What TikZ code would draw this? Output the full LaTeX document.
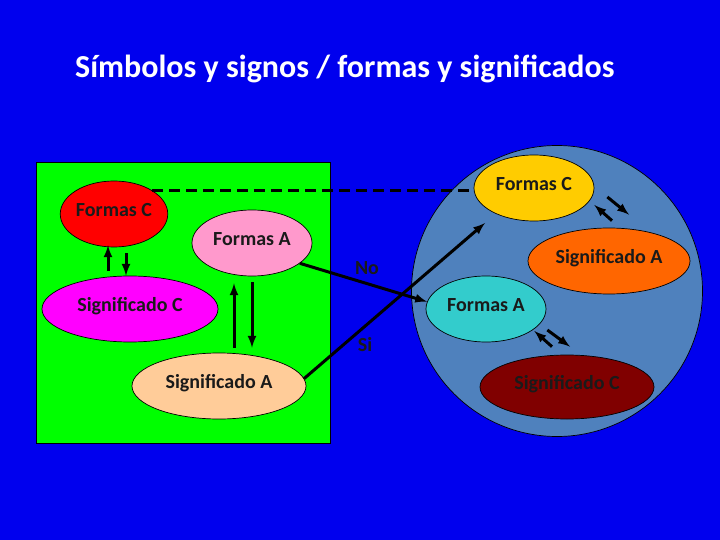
\documentclass[tikz,border=0pt]{standalone}
\usepackage{fontspec}
\setmainfont{Carlito}
\usetikzlibrary{shapes.geometric}
\definecolor{color1}{HTML}{0000EE}
\definecolor{color2}{HTML}{00FF00}
\definecolor{color3}{HTML}{4F81BD}
\definecolor{color4}{HTML}{FF0000}
\definecolor{color5}{HTML}{FF99CC}
\definecolor{color6}{HTML}{FF00FF}
\definecolor{color7}{HTML}{FFCC99}
\definecolor{color8}{HTML}{FFCC00}
\definecolor{color9}{HTML}{FF6600}
\definecolor{color10}{HTML}{33CCCC}
\definecolor{color11}{HTML}{800000}
\definecolor{color12}{HTML}{1A1A1A}
\tikzset{
 oval/.style={ellipse,draw=black,line width=0.7pt,inner sep=0pt,minimum height=66,text=color12,text height=13pt,text depth=8pt,font=\fontsize{20}{22}\selectfont\bfseries},
 pair/.style={line width=3pt,->,>=latex},
 link/.style={line width=3pt,->,>=latex},
 tag/.style={text=color12,font=\fontsize{20}{22}\selectfont\bfseries}
}
\begin{document}
\begin{tikzpicture}[x=1pt,y=-1pt]
\fill[color1] (0,0) rectangle (720,540);
\node[anchor=base west,text=white,font=\fontsize{32}{36}\selectfont\bfseries,inner sep=0pt] (title) at (75,78) {Símbolos y signos / formas y significados};
\fill[color2,draw=black,line width=0.7pt] (36,162) rectangle (330,443);
\fill[color3,draw=black,line width=0.7pt] (557,291) circle (145.5);

\node[oval,fill=color4,minimum width=106] (fcl) at (114,214) {Formas C};
\node[oval,fill=color5,minimum width=120] (fal) at (252,243) {Formas A};
\node[oval,fill=color6,minimum width=176] (scl) at (130,309) {Significado C};
\node[oval,fill=color7,minimum width=174] (sal) at (219,386) {Significado A};

\node[oval,fill=color8,minimum width=120] (fcr) at (534,188) {Formas C};
\node[oval,fill=color9,minimum width=162] (sar) at (609,261) {Significado A};
\node[oval,fill=color10,minimum width=120] (far) at (486,309) {Formas A};
\node[oval,fill=color11,minimum width=174,minimum height=64] (scr) at (567,387) {Significado C};

\draw[pair] ([shift={(-22,-5)}]scl.north) -- ([shift={(-6,-2)}]fcl.south);
\draw[pair] ([shift={(12,6)}]fcl.south) -- ([shift={(-4,0)}]scl.north);
\draw[pair] ([shift={(15,-5)}]sal.north) -- ([shift={(-18,7)}]fal.south);
\draw[pair] ([shift={(0,6)}]fal.south) -- ([shift={(33,-5)}]sal.north);

\draw[pair] ([shift={(3,-7)}]sar.north) -- ([shift={(0,17)}]fcr.east);
\draw[pair] ([shift={(13,9)}]fcr.east) -- ([shift={(20,-13)}]sar.north);
\draw[pair] ([shift={(-15,-8)}]scr.north) -- ([shift={(-12,22)}]far.east);
\draw[pair] ([shift={(1,21)}]far.east) -- ([shift={(3,-8)}]scr.north);

\draw[line width=3pt,dash pattern=on 11pt off 6pt] (fcl.north east) -- (fcl.north east -| fcr.west);
\draw[link] (fal.-23) -- (far.173);
\draw[link] (sal.5) -- ([shift={(-49,35)}]fcr.center);
\node[tag] (no) at (367,268) {No};
\node[tag] (si) at (365,345) {Si};
\end{tikzpicture}
\end{document}
